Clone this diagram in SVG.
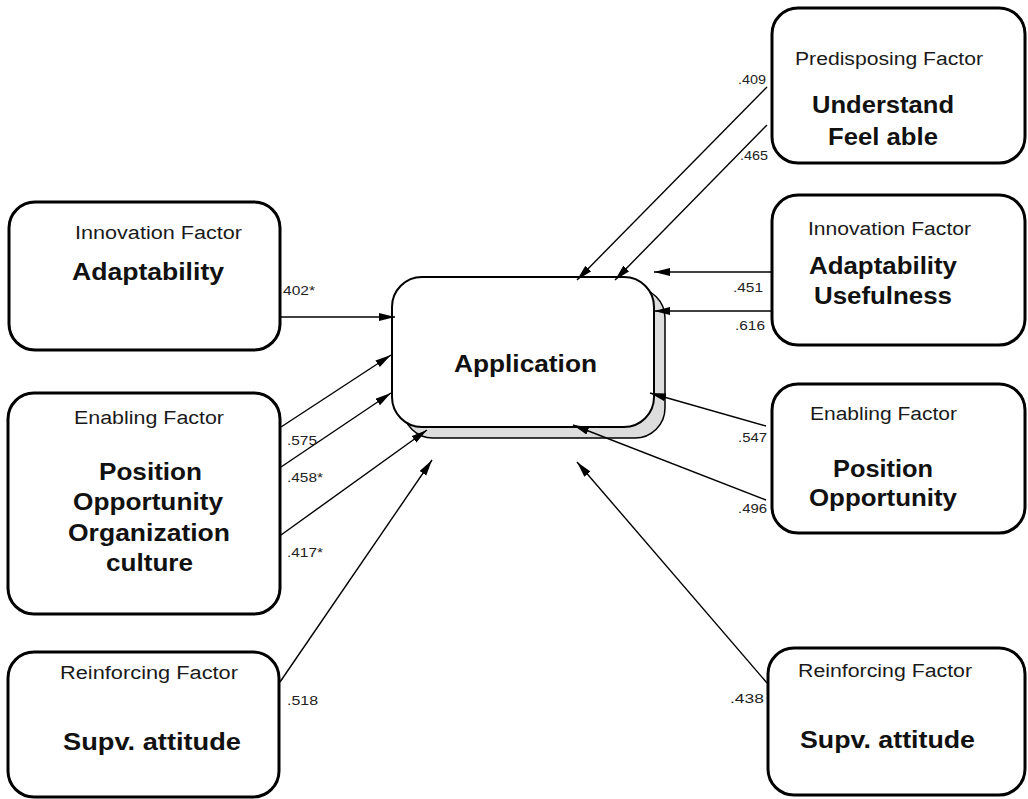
<svg xmlns="http://www.w3.org/2000/svg" width="1028" height="799" viewBox="0 0 1028 799">
<defs>
<style>
.box{fill:#fff;stroke:#000;stroke-width:3}
.hd{font-family:"Liberation Sans",Arial,sans-serif;font-size:18px;fill:#1a1a1a;text-anchor:middle}
.bd{font-family:"Liberation Sans",Arial,sans-serif;font-size:23px;font-weight:bold;fill:#111;text-anchor:middle}
.lb{font-family:"Liberation Sans",Arial,sans-serif;font-size:13px;fill:#222}
.lr{text-anchor:end}
.ln{fill:none;stroke:#000;stroke-width:1.4;marker-end:url(#ah)}
</style>
<marker id="ah" markerUnits="userSpaceOnUse" markerWidth="18" markerHeight="10" refX="16" refY="4" orient="auto">
<path d="M0,0 L16,4 L0,8 Z" fill="#000"/>
</marker>
</defs>
<rect width="1028" height="799" fill="#fff"/>

<g id="application">
<rect x="403" y="288" width="262" height="150" rx="30" fill="#ddd" stroke="#000" stroke-width="1.5"/>
<rect x="392" y="277" width="262" height="150" rx="30" fill="#fff" stroke="#000" stroke-width="2"/>
<text class="bd" x="525.5" y="372" textLength="143" lengthAdjust="spacingAndGlyphs">Application</text>
</g>

<g id="left-innovation">
<rect class="box" x="9" y="202" width="271" height="148" rx="26"/>
<text class="hd" x="158.5" y="239" textLength="167" lengthAdjust="spacingAndGlyphs">Innovation Factor</text>
<text class="bd" x="148" y="280" textLength="152" lengthAdjust="spacingAndGlyphs">Adaptability</text>
</g>

<g id="left-enabling">
<rect class="box" x="8" y="393" width="272" height="221" rx="26"/>
<text class="hd" x="149" y="424" textLength="150" lengthAdjust="spacingAndGlyphs">Enabling Factor</text>
<text class="bd" x="150.5" y="480" textLength="103" lengthAdjust="spacingAndGlyphs">Position</text>
<text class="bd" x="148" y="510" textLength="150" lengthAdjust="spacingAndGlyphs">Opportunity</text>
<text class="bd" x="149" y="541" textLength="162" lengthAdjust="spacingAndGlyphs">Organization</text>
<text class="bd" x="149.5" y="571" textLength="87" lengthAdjust="spacingAndGlyphs">culture</text>
</g>

<g id="left-reinforcing">
<rect class="box" x="8" y="652" width="271" height="145" rx="26"/>
<text class="hd" x="149" y="679" textLength="178" lengthAdjust="spacingAndGlyphs">Reinforcing Factor</text>
<text class="bd" x="152" y="750" textLength="178" lengthAdjust="spacingAndGlyphs">Supv. attitude</text>
</g>

<g id="right-predisposing">
<rect class="box" x="772" y="8" width="253" height="155" rx="26"/>
<text class="hd" x="889" y="65" textLength="188" lengthAdjust="spacingAndGlyphs">Predisposing Factor</text>
<text class="bd" x="883" y="113" textLength="142" lengthAdjust="spacingAndGlyphs">Understand</text>
<text class="bd" x="883" y="145" textLength="110" lengthAdjust="spacingAndGlyphs">Feel able</text>
</g>

<g id="right-innovation">
<rect class="box" x="772" y="195" width="253" height="150" rx="26"/>
<text class="hd" x="889.5" y="235" textLength="163" lengthAdjust="spacingAndGlyphs">Innovation Factor</text>
<text class="bd" x="883" y="274" textLength="148" lengthAdjust="spacingAndGlyphs">Adaptability</text>
<text class="bd" x="883" y="304" textLength="138" lengthAdjust="spacingAndGlyphs">Usefulness</text>
</g>

<g id="right-enabling">
<rect class="box" x="772" y="384" width="253" height="149" rx="26"/>
<text class="hd" x="883.5" y="420" textLength="147" lengthAdjust="spacingAndGlyphs">Enabling Factor</text>
<text class="bd" x="883" y="477" textLength="100" lengthAdjust="spacingAndGlyphs">Position</text>
<text class="bd" x="883" y="506" textLength="148" lengthAdjust="spacingAndGlyphs">Opportunity</text>
</g>

<g id="right-reinforcing">
<rect class="box" x="768" y="648" width="257" height="147" rx="26"/>
<text class="hd" x="885" y="677" textLength="174" lengthAdjust="spacingAndGlyphs">Reinforcing Factor</text>
<text class="bd" x="887.5" y="748" textLength="175" lengthAdjust="spacingAndGlyphs">Supv. attitude</text>
</g>

<g id="connectors">
<line class="ln" x1="281" y1="317" x2="395" y2="317"/>
<line class="ln" x1="281" y1="427" x2="391" y2="355"/>
<line class="ln" x1="281" y1="467" x2="391" y2="393"/>
<line class="ln" x1="281" y1="535" x2="427" y2="430"/>
<line class="ln" x1="280" y1="682" x2="432" y2="460"/>
<line class="ln" x1="767" y1="87" x2="577" y2="280"/>
<line class="ln" x1="767" y1="125" x2="615" y2="280"/>
<line class="ln" x1="771" y1="272" x2="654" y2="272"/>
<line class="ln" x1="771" y1="311" x2="654" y2="311"/>
<line class="ln" x1="766" y1="426" x2="650" y2="393"/>
<line class="ln" x1="766" y1="500" x2="573" y2="425"/>
<line class="ln" x1="767" y1="683" x2="577" y2="462"/>
</g>

<g id="labels">
<text class="lb" x="283" y="295" textLength="32" lengthAdjust="spacingAndGlyphs">402*</text>
<text class="lb" x="287" y="445" textLength="30" lengthAdjust="spacingAndGlyphs">.575</text>
<text class="lb" x="287" y="482" textLength="36" lengthAdjust="spacingAndGlyphs">.458*</text>
<text class="lb" x="287" y="557" textLength="36" lengthAdjust="spacingAndGlyphs">.417*</text>
<text class="lb" x="287" y="705" textLength="31" lengthAdjust="spacingAndGlyphs">.518</text>
<text class="lb lr" x="766" y="84" textLength="28" lengthAdjust="spacingAndGlyphs">.409</text>
<text class="lb lr" x="768" y="160" textLength="28" lengthAdjust="spacingAndGlyphs">.465</text>
<text class="lb lr" x="763" y="292" textLength="30" lengthAdjust="spacingAndGlyphs">.451</text>
<text class="lb lr" x="765" y="330" textLength="30" lengthAdjust="spacingAndGlyphs">.616</text>
<text class="lb lr" x="767" y="442" textLength="29" lengthAdjust="spacingAndGlyphs">.547</text>
<text class="lb lr" x="767" y="513" textLength="29" lengthAdjust="spacingAndGlyphs">.496</text>
<text class="lb lr" x="764" y="703" textLength="34" lengthAdjust="spacingAndGlyphs">.438</text>
</g>
</svg>
